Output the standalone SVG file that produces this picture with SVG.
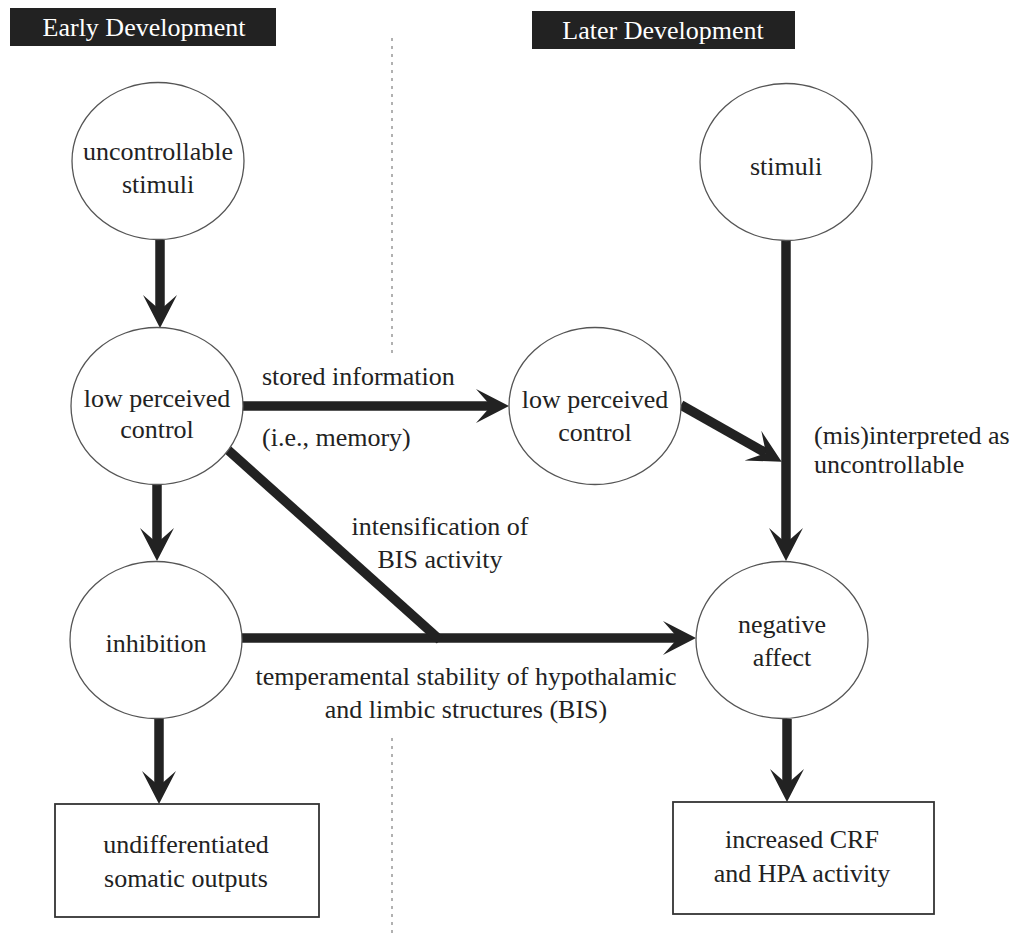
<svg xmlns="http://www.w3.org/2000/svg" width="1013" height="936" viewBox="0 0 1013 936">
<style>
.node{fill:#fff;stroke:#555;stroke-width:1.3}
.box{fill:#fff;stroke:#333;stroke-width:1.8}
.t{font-family:"Liberation Serif","Times New Roman",serif;font-size:26px;fill:#222}
.c{text-anchor:middle}
.hdr{fill:#222}
.ht{font-family:"Liberation Serif","Times New Roman",serif;font-size:26px;fill:#fff;text-anchor:middle}
.arr{stroke:#222;stroke-width:9.5;fill:none;marker-end:url(#ah)}
.ln{stroke:#222;stroke-width:9.5;fill:none}
.dot{stroke:#888;stroke-width:1.3;stroke-dasharray:3 5;fill:none}
</style>
<defs>
<marker id="ah" markerUnits="userSpaceOnUse" viewBox="-20 -20 45 40" refX="0" refY="0" markerWidth="45" markerHeight="40" orient="auto" overflow="visible">
<path d="M18,0 L-15,-17 L0,0 L-15,17 Z" fill="#222"/>
</marker>
</defs>
<rect width="1013" height="936" fill="#fff"/>
<g id="headers">
<rect class="hdr" x="10" y="8" width="266" height="38"/>
<text class="ht" x="144" y="36">Early Development</text>
<rect class="hdr" x="532" y="11" width="263" height="38"/>
<text class="ht" x="663" y="39">Later Development</text>
</g>
<g id="divider">
<line class="dot" x1="392" y1="38" x2="392" y2="355"/>
<line class="dot" x1="392" y1="738" x2="392" y2="936"/>
</g>
<g id="connectors">
<line class="arr" x1="160" y1="240" x2="160" y2="310"/>
<line class="arr" x1="157" y1="485" x2="157" y2="543"/>
<line class="arr" x1="159" y1="718" x2="159" y2="786"/>
<line class="arr" x1="243" y1="406" x2="491" y2="406"/>
<line class="arr" x1="242" y1="638" x2="678" y2="638"/>
<line class="ln" x1="228" y1="450" x2="440" y2="640"/>
<line class="arr" x1="786" y1="240" x2="786" y2="543"/>
<line class="arr" x1="681" y1="405" x2="766" y2="453"/>
<line class="arr" x1="787" y1="719" x2="787" y2="784"/>
<text class="t" x="262" y="385">stored information</text>
<text class="t" x="262" y="446">(i.e., memory)</text>
<text class="t c" x="440" y="535">intensification of</text>
<text class="t c" x="440" y="568">BIS activity</text>
<text class="t c" x="466" y="685">temperamental stability of hypothalamic</text>
<text class="t c" x="466" y="718">and limbic structures (BIS)</text>
<text class="t" x="814" y="444">(mis)interpreted as</text>
<text class="t" x="814" y="473">uncontrollable</text>
</g>
<g id="uncontrollable-stimuli">
<ellipse class="node" cx="158" cy="161" rx="86" ry="78.5"/>
<text class="t c" x="158" y="160">uncontrollable</text>
<text class="t c" x="158" y="193">stimuli</text>
</g>
<g id="low-perceived-control-early">
<ellipse class="node" cx="157" cy="406" rx="86" ry="78.5"/>
<text class="t c" x="157" y="407">low perceived</text>
<text class="t c" x="157" y="438">control</text>
</g>
<g id="inhibition">
<ellipse class="node" cx="156" cy="640" rx="86" ry="78.5"/>
<text class="t c" x="156" y="652">inhibition</text>
</g>
<g id="undifferentiated-somatic-outputs">
<rect class="box" x="55" y="804" width="264" height="113"/>
<text class="t c" x="186" y="853">undifferentiated</text>
<text class="t c" x="186" y="887">somatic outputs</text>
</g>
<g id="stimuli">
<ellipse class="node" cx="786" cy="162" rx="86" ry="78.5"/>
<text class="t c" x="786" y="175">stimuli</text>
</g>
<g id="low-perceived-control-later">
<ellipse class="node" cx="595" cy="406" rx="86" ry="78.5"/>
<text class="t c" x="595" y="408">low perceived</text>
<text class="t c" x="595" y="441">control</text>
</g>
<g id="negative-affect">
<ellipse class="node" cx="782" cy="640" rx="86" ry="78.5"/>
<text class="t c" x="782" y="633">negative</text>
<text class="t c" x="782" y="666">affect</text>
</g>
<g id="increased-crf-hpa">
<rect class="box" x="673" y="802" width="261" height="112"/>
<text class="t c" x="802" y="848">increased CRF</text>
<text class="t c" x="802" y="882">and HPA activity</text>
</g>
</svg>
